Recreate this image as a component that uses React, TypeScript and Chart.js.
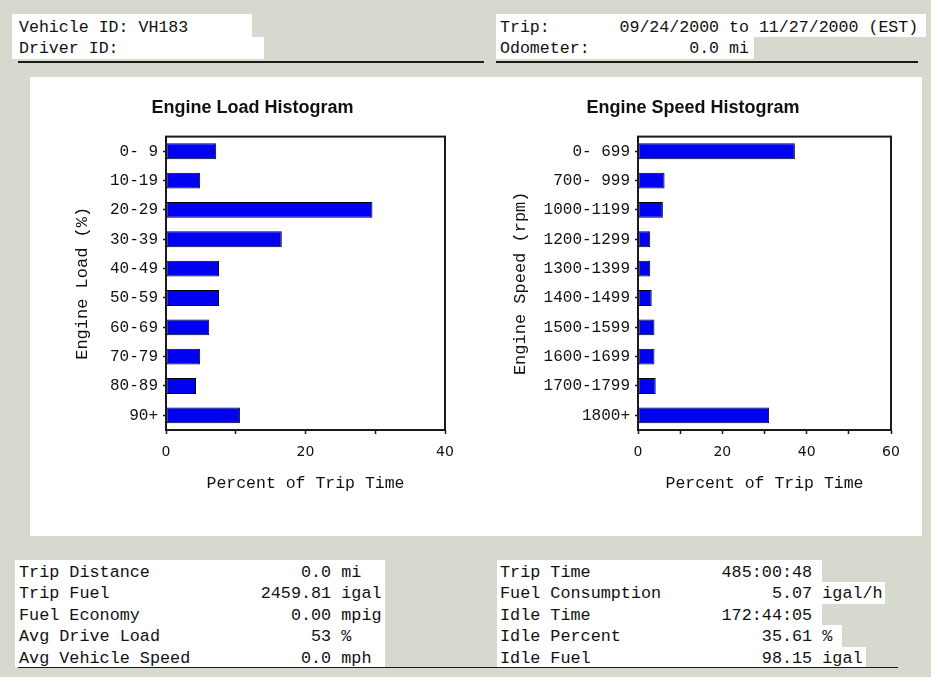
import React, { useEffect, useRef } from "react";
import { Chart, registerables } from "chart.js";

Chart.register(...registerables);

// ---------- data ----------
const loadCategories = ["0- 9", "10-19", "20-29", "30-39", "40-49", "50-59", "60-69", "70-79", "80-89", "90+"];
const loadPercent = [7.2, 4.9, 29.6, 16.6, 7.6, 7.6, 6.2, 4.9, 4.3, 10.6];
const loadAxisMax = 40;

const speedCategories = ["0- 699", "700- 999", "1000-1199", "1200-1299", "1300-1399", "1400-1499", "1500-1599", "1600-1699", "1700-1799", "1800+"];
const speedPercent = [37.2, 6.3, 5.9, 2.9, 2.9, 3.25, 3.9, 3.9, 4.2, 31.1];
const speedAxisMax = 60;

const xTickStep = 10;
const xLabelStep = 20;

const loadTitle = "Engine Load Histogram";
const loadYTitle = "Engine Load (%)";
const speedTitle = "Engine Speed Histogram";
const speedYTitle = "Engine Speed (rpm)";
const xTitle = "Percent of Trip Time";

const headerLeftLines = ["Vehicle ID: VH183", "Driver ID:"];
const headerRightLabels = ["Trip:", "Odometer:"];
const headerRightValues = ["09/24/2000 to 11/27/2000 (EST)", "0.0 mi"];
const headerRightCols = [12, 19];

const footerLeftLabels = ["Trip Distance", "Trip Fuel", "Fuel Economy", "Avg Drive Load", "Avg Vehicle Speed"];
const footerLeftValues = ["0.0", "2459.81", "0.00", "53", "0.0"];
const footerLeftUnits = ["mi", "igal", "mpig", "%", "mph"];
const footerRightLabels = ["Trip Time", "Fuel Consumption", "Idle Time", "Idle Percent", "Idle Fuel"];
const footerRightValues = ["485:00:48", "5.07", "172:44:05", "35.61", "98.15"];
const footerRightUnits = ["", "igal/h", "", "%", "igal"];

// ---------- styling ----------
const MONO = "'Liberation Mono', 'Courier New', monospace";
const INK = "#111111";
const BAR_BLUE = "#0000f2";

const framePlugin = {
  id: "frameBox",
  afterDatasetsDraw(chart: any) {
    const { ctx, chartArea: a } = chart;
    ctx.save();
    ctx.strokeStyle = "#1a1a1a";
    ctx.lineWidth = 2;
    ctx.strokeRect(a.left, a.top, a.right - a.left, a.bottom - a.top);
    ctx.restore();
  },
};

function makeConfig(
  title: string,
  yTitle: string,
  categories: string[],
  values: number[],
  max: number,
  geo: { yW: number; padR: number; padT: number; xH: number; yTitlePad: number }
): any {
  return {
    type: "bar",
    data: {
      labels: categories,
      datasets: [
        {
          data: values,
          backgroundColor: BAR_BLUE,
          borderColor: "#000000",
          borderWidth: 1,
          borderSkipped: false,
          barPercentage: 0.54,
          categoryPercentage: 1,
        },
      ],
    },
    options: {
      indexAxis: "y",
      animation: false,
      responsive: false,
      devicePixelRatio: 1,
      layout: { padding: { left: 0, right: geo.padR, top: geo.padT, bottom: 0 } },
      plugins: {
        legend: { display: false },
        tooltip: { enabled: false },
        title: {
          display: true,
          text: title,
          color: INK,
          font: { family: "'Liberation Sans', Arial, sans-serif", size: 18, weight: "bold", lineHeight: 1.2 },
          padding: { top: 0, bottom: 18 },
        },
      },
      scales: {
        x: {
          type: "linear",
          min: 0,
          max: max,
          grid: {
            display: true,
            drawOnChartArea: false,
            drawTicks: true,
            tickLength: 4,
            tickColor: "#1a1a1a",
            tickWidth: 1.5,
          },
          border: { display: false },
          ticks: {
            stepSize: xTickStep,
            autoSkip: false,
            maxRotation: 0,
            padding: 10,
            color: INK,
            font: { family: "'DejaVu Sans', Verdana, sans-serif", size: 14 },
            callback: (v: any) => (Number(v) % xLabelStep === 0 ? String(v) : ""),
          },
          title: {
            display: true,
            text: xTitle,
            color: INK,
            font: { family: MONO, size: 16.5, lineHeight: 1.2 },
            padding: { top: 0, bottom: 11 },
          },
          afterFit(scale: any) {
            scale.height = geo.xH;
            scale.paddingLeft = 0;
            scale.paddingRight = 0;
          },
        },
        y: {
          type: "category",
          offset: true,
          grid: {
            display: true,
            offset: false,
            drawOnChartArea: false,
            drawTicks: true,
            tickLength: 3,
            tickColor: "#1a1a1a",
            tickWidth: 1.5,
          },
          border: { display: false },
          ticks: {
            autoSkip: false,
            padding: 5,
            color: INK,
            font: { family: MONO, size: 16 },
          },
          title: {
            display: true,
            text: yTitle,
            color: INK,
            font: { family: MONO, size: 17, lineHeight: 1.2 },
            padding: { top: geo.yTitlePad, bottom: 0 },
          },
          afterFit(scale: any) {
            scale.width = geo.yW;
            scale.paddingTop = 0;
            scale.paddingBottom = 0;
          },
        },
      },
    },
    plugins: [framePlugin],
  };
}

function HistChart(props: {
  left: number;
  top: number;
  width: number;
  height: number;
  config: any;
}) {
  const ref = useRef<HTMLCanvasElement | null>(null);
  useEffect(() => {
    if (!ref.current) return;
    const chart = new Chart(ref.current, props.config);
    return () => chart.destroy();
  }, []);
  return (
    <canvas
      ref={ref}
      width={props.width}
      height={props.height}
      style={{ position: "absolute", left: props.left, top: props.top, width: props.width, height: props.height }}
    />
  );
}

function footerLine(label: string, value: string, unit: string) {
  return label.padEnd(31 - value.length) + value + (unit ? " " + unit : "");
}

const textStyle: React.CSSProperties = {
  position: "absolute",
  fontFamily: MONO,
  color: INK,
  whiteSpace: "pre",
  margin: 0,
};

function Rect(p: { x: number; y: number; w: number; h: number; c: string }) {
  return <div style={{ position: "absolute", left: p.x, top: p.y, width: p.w, height: p.h, background: p.c }} />;
}

export default function App() {
  const loadConfig = makeConfig(loadTitle, loadYTitle, loadCategories, loadPercent, loadAxisMax, {
    yW: 106,
    padR: 11,
    padT: 12,
    xH: 75,
    yTitlePad: 12,
  });
  const speedConfig = makeConfig(speedTitle, speedYTitle, speedCategories, speedPercent, speedAxisMax, {
    yW: 143,
    padR: 17,
    padT: 12,
    xH: 75,
    yTitlePad: 15,
  });

  const headerRight = headerRightLabels.map((l, i) => l.padEnd(headerRightCols[i]) + headerRightValues[i]);

  return (
    <div
      style={{
        position: "fixed",
        left: 0,
        top: 0,
        width: 931,
        height: 677,
        overflow: "hidden",
        background: "#d6d9ce",
      }}
    >
      {/* header white boxes */}
      <Rect x={12} y={14} w={240} h={23} c="#ffffff" />
      <Rect x={12} y={37} w={252} h={22} c="#ffffff" />
      <Rect x={496} y={14} w={430} h={23} c="#ffffff" />
      <Rect x={496} y={37} w={258} h={22} c="#ffffff" />
      {/* header underline */}
      <Rect x={18} y={61} w={466} h={1.5} c="#1a1a1a" />
      <Rect x={496} y={61} w={422} h={1.5} c="#1a1a1a" />

      <div style={{ ...textStyle, left: 19, top: 16.5, fontSize: 16.6, lineHeight: "21px" }}>
        {headerLeftLines.join("\n")}
      </div>
      <div style={{ ...textStyle, left: 500, top: 16.5, fontSize: 16.6, lineHeight: "21px" }}>
        {headerRight.join("\n")}
      </div>

      {/* chart panel */}
      <Rect x={30} y={77} w={892} h={459} c="#ffffff" />
      <HistChart left={60} top={85} width={396} height={420} config={loadConfig} />
      <HistChart left={495} top={85} width={413} height={420} config={speedConfig} />

      {/* footer white boxes */}
      <Rect x={15} y={560} w={370} h={107} c="#ffffff" />
      <Rect x={497} y={560} w={325} h={107} c="#ffffff" />
      <Rect x={822} y={582} w={63} h={22} c="#ffffff" />
      <Rect x={822} y={625} w={20} h={22} c="#ffffff" />
      <Rect x={822} y={647} w={44} h={20} c="#ffffff" />
      {/* footer underline */}
      <Rect x={18} y={666.5} w={880} h={1.5} c="#1a1a1a" />

      <div style={{ ...textStyle, left: 19, top: 561.5, fontSize: 16.8, lineHeight: "21.5px" }}>
        {footerLeftLabels.map((l, i) => footerLine(l, footerLeftValues[i], footerLeftUnits[i])).join("\n")}
      </div>
      <div style={{ ...textStyle, left: 500, top: 561.5, fontSize: 16.8, lineHeight: "21.5px" }}>
        {footerRightLabels.map((l, i) => footerLine(l, footerRightValues[i], footerRightUnits[i])).join("\n")}
      </div>
    </div>
  );
}
